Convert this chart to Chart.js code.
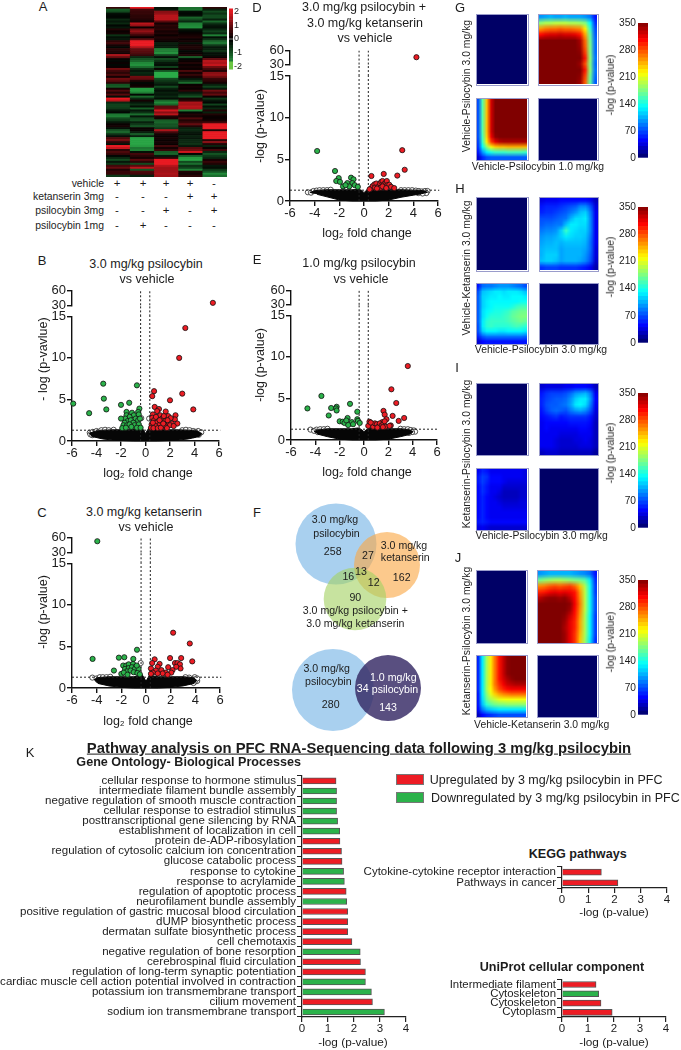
<!DOCTYPE html>
<html><head><meta charset="utf-8">
<style>
html,body{margin:0;padding:0;background:#fff;}
#page{position:relative;width:681px;height:1050px;overflow:hidden;font-family:"Liberation Sans",Arial,sans-serif;color:#1c1c1c;}
#page canvas{position:absolute;}
.t{position:absolute;white-space:nowrap;line-height:1;}
</style>
<script src="https://cdn.jsdelivr.net/npm/chart.js@4"></script>
</head><body><div id="page"></div>
<script>
/* ---------- panel A ---------- */
const heatRows=[[.5,2,-.2,-1.3,.4],[-1.1,.6,-.3,-1.4,-.4],[-.9,.5,1.2,-.2,-.9],[-.2,.5,1.3,-.1,-.6],[-.1,.4,1.6,-.2,-.9],[-.1,.4,1.6,-1.2,-.9],[-.5,.3,1.6,-.9,-.4],[-.3,.2,.8,-.5,-1.2],[-.5,1.6,.2,-1.5,-.6],[-.1,1.3,.4,-1.6,-.3],[-.3,.1,.3,-1.7,-.2],[.3,1,.4,-.3,-.5],[.1,1.3,.2,-.1,-.8],[.2,.9,.3,.1,-.5],[-.6,.5,.1,.2,-1.5],[-.2,.1,.3,.3,-.2],[-.3,.8,.2,.1,-.6],[.4,2,.1,.2,-1.2],[.6,2,-.4,-.2,-1.4],[.2,2,-.3,.2,-.7],[-.1,1.5,-.4,.3,-.3],[.4,.9,-1.5,.2,-.4],[.3,.8,-1.5,-.1,-.6],[.2,.7,-1.7,.1,-.2],[1.5,.5,-.8,.3,-.2],[.9,-.5,-.2,-1.1,.1],[.1,-1,-.9,-.1,.9],[-.1,-1.2,-.6,.1,1.6],[.1,-1.6,-.3,.3,1.5],[-.1,-1.7,-.2,.1,1.7],[.1,-1.3,-.8,.2,1],[1,-.6,.1,.1,.6],[.6,-.3,-1,.7,.3],[.4,-.5,-2,.2,1.2],[.7,-.4,-2,.5,1.3],[.2,1,-2,.2,1],[1,.9,-.9,-.3,.5],[.8,.3,-.7,-.7,.4],[.4,-.1,-.5,-1.3,.2],[-1,.1,-.3,.1,-.4],[-1.1,.2,-.9,.2,-.8],[.2,-1.8,-.4,.1,-.3],[.7,-1.8,-.2,.4,1],
[.3,-1.5,-.4,-.3,.6],[.8,-.1,-.3,-.6,.9],[-.2,-1.2,-.5,-1,.1],[2,-.5,-.2,.2,-.7],[1.6,.2,-1.2,.4,-.3],[-.5,-.3,-1.6,1.5,-.1],[-.8,-.6,-1.2,1.4,-.8],[-.8,-.2,.8,1.6,-.2],[-.7,-1.1,.9,1.5,-.5],[-.3,-.3,1.8,-1.5,.3],[-.1,-.6,1.2,-.1,-.4],[-1.4,-1.3,1.6,.3,.3],[-1.5,-.3,.3,.2,.1],[-.9,-.9,.2,.7,.1],[-.7,-1,-1.1,.3,.2],[-.3,-.4,-1.2,.5,.6],[.1,-.7,-1,.9,2],[.2,-1,-1,.3,2],[-.2,.1,-.7,-.4,2],[-1,.1,1.5,-.5,.3],[-1.2,-.4,.6,-.3,2.2],[-.6,-1.1,.2,-.2,2.2],[-.2,-.4,.1,-.4,2.2],[.7,-1.9,.2,-.3,2.1],[1,-1.9,.1,-.5,.4],[.4,-1.9,.2,-.5,1.2],[-.2,-1.9,.1,-.6,.3],[2,-1.8,.6,-.3,-.4],[1.7,-1.4,.2,.8,.1],[.4,-1.5,.5,1,.6],[.7,-.2,-1.1,1.8,-.5],[.5,.6,-1.2,-.1,-1],[-.1,.4,-.3,-1.1,-.7],[-.5,.2,.4,-1.8,-.5],[-.9,.8,2,-1.9,.2],[-.3,.4,2.1,-.9,.5],[-.7,-.9,2.1,-1.3,.3],[.6,.8,1.6,-.6,-.3],[.9,1.6,1.4,-.8,-.2],[.3,-1,1.4,-1.5,-.7],[.5,.7,1.4,.3,-1],[.5,.6,1.5,.2,-1.6],[-.7,-.4,1.4,.4,-1.3]];
const heatColumns=['1','2','3','4','5'];
const heatScaleLevels=[.1,.3,.5,.7,.9,1.1,1.3,1.5,1.7,1.9,2.1,-.1,-.3,-.5,-.7,-.9,-1.1,-1.3,-1.5,-1.7,-1.9,-2.1];
const heatScaleTicks=[-2,-1,0,1,2];
const treatmentLabels=['vehicle','ketanserin 3mg','psilocybin 3mg','psilocybin 1mg'];
const treatmentMarks=[['+','+','+','+','-'],['-','-','-','+','+'],['-','-','+','-','+'],['-','+','-','-','-']];

/* ---------- volcano panels: [log2 fold change, -log p] ---------- */
const bRed=[[3.25,13.6],[2.75,10],[.7,6],[.55,5.4],[3,5.7],[2,4.9],[3.9,3.8],[.75,4.1],[1.1,3.85],[.95,3.6],[.6,3.2],[1.65,3.55],[2.45,3.1],[2.4,2.6],[1.85,3],[2.05,2.75],[2.15,2.1],[2.6,2.1],[1.7,2.1],[2,1.9],[.55,2.8],[.7,2.5],[.9,2.2],[1.05,2.9],[1.2,3.1],[1.35,2.7],[1.5,3],[1.6,2.4],[1.3,2.2],[1.1,1.9],[.8,1.8],[.5,2],[.45,1.6],[.65,1.55],[1,1.55],[1.4,1.7],[1.55,1.9],[1.8,2.5],[1.25,1.6],[1.75,1.55],[.85,2.9],[.6,2.2],[1.15,2.5],[1.45,2.1],[2.3,1.8]];
const bRedTop=[[5.5,35]];
const bGreen=[[-3.45,6.9],[-.7,6.7],[-3.4,5.1],[-5.9,4.5],[-1.33,4.6],[-2,4.35],[-3.2,3.8],[-4.6,3.35],[-.5,3.9],[-1.55,3.5],[-1.55,3.1],[-1.1,3.4],[-.95,3.1],[-.6,3.5],[-.55,3.2],[-1.3,2.9],[-1.65,2.7],[-2,2.7],[-1.45,2.4],[-1.2,2.5],[-.8,2.7],[-.6,2.5],[-1,2.2],[-1.7,2.2],[-1.8,1.9],[-1.5,1.9],[-1.3,2],[-.9,1.9],[-.55,2],[-.45,2.7],[-1.15,1.7],[-1.9,1.55],[-1.6,1.6],[-.7,1.6],[-.4,1.6]];
const bGreenTop=[];
const bOpen=[[-4.55,1],[-4.5,.8],[-4.3,1.1],[-4.35,.7],[-4,1.2],[-3.8,1.1],[-3.6,1.3],[-3.3,1.35],[-3,1.3],[-2.6,1.35],[-.35,2.75],[.3,2.7],[3,1.3],[3.3,1.35],[3.6,1.3],[3.9,1.2],[4.1,1.1],[4.3,1.2],[4.1,.9],[4.35,.75],[4.55,1.05],[3.95,.7],[-2.9,.85]];
const bMass=[[-4.6,.9],[-4.2,1.15],[-3.5,1.3],[-2.5,1.35],[-1.5,1.35],[-.8,1.4],[-.4,1.9],[-.2,1.4],[0,.9],[.2,1.4],[.4,1.9],[.8,1.4],[1.5,1.35],[2.5,1.35],[3.5,1.3],[4.2,1.2],[4.6,.9],[4.4,.55],[3.5,.25],[2.5,.08],[1,0],[-1,0],[-2.5,.08],[-3.5,.25],[-4.4,.55]];

const cRed=[[2.2,6.65],[3.55,5.35],[3.75,3.2],[1.95,3.6],[2.85,3.6],[.7,3.45],[2.35,3],[2.55,3],[2.75,2.85],[2.8,2.35],[.5,3],[.4,2.35],[1.1,2.9],[.95,2.55],[1.8,2.5],[2.45,2.55],[2.15,2.15],[1.25,2.15],[.8,2.1],[.55,1.85],[1.6,1.85],[2.05,1.85],[1.35,1.75],[.95,1.75],[1.75,1.6],[.4,1.7]];
const cRedTop=[];
const cGreen=[[-.73,4.6],[-4.33,3.5],[-2.2,3.65],[-1.76,3.7],[-1.03,3.5],[-2.6,2.1],[-1.85,2.7],[-1.6,2.7],[-1.4,2.85],[-1.05,2.9],[-.85,2.55],[-1.7,2.3],[-1.4,2.4],[-1.15,2.5],[-.9,2.3],[-.6,2.3],[-1.55,2],[-1.25,2.1],[-1,1.9],[-.7,1.8],[-2,1.7],[-1.8,1.85],[-1.5,1.6],[-.5,1.65],[-.75,2.7]];
const cGreenTop=[[-3.95,53]];
const cOpen=[[-.43,3],[-4.35,1.25],[-4,1.15],[-3.9,.95],[-3.75,1.3],[-3.5,1.3],[-3.2,1.3],[-2.9,1.35],[3.95,1.3],[4,1.05],[4.15,.85],[3.95,.75],[3.75,.95],[3.5,1.25],[3.2,1.3],[4.15,1.15],[3.85,.6]];
const cMass=[[-4.2,1],[-3.9,1.25],[-3,1.35],[-2,1.35],[-1,1.35],[-.6,1.45],[-.35,1.7],[-.15,1.2],[0,.8],[.15,1.2],[.35,1.7],[.6,1.45],[1,1.35],[2,1.35],[3,1.35],[3.8,1.25],[4.1,.95],[3.9,.55],[3,.25],[2,.08],[1,0],[-1,0],[-2,.08],[-3,.25],[-3.9,.55]];

const dRed=[[3.1,6.1],[3.3,3.75],[2.7,3.05],[1.6,3.25],[.6,3],[.55,1.5],[.7,1.8],[.85,2],[1,2.1],[.9,1.6],[1.15,1.7],[1.3,2.1],[1.4,2.3],[1.5,2.4],[1.6,2],[1.75,2.2],[1.85,2.4],[1.65,1.7],[1.9,1.9],[2.05,1.95],[2.2,1.7],[2.45,1.55],[1.35,1.6],[1.05,1.5],[1.5,1.75],[1.8,1.55],[.45,1.4]];
const dRedTop=[[4.25,46]];
const dGreen=[[-3.8,6],[-2.35,3.6],[-2.05,2.75],[-2.25,2.4],[-1.05,2.8],[-.85,2.6],[-.95,2.15],[-1.35,2.15],[-.75,1.9],[-1.7,1.75],[-1.2,1.75],[-.5,1.7],[-1.95,2.3],[-1.5,1.9]];
const dGreenTop=[];
const dOpen=[[-4.55,1.05],[-4.3,1],[-4.1,1.2],[-3.85,1.25],[-3.6,1.3],[-3.3,1.3],[-3,1.3],[-2.7,1.35],[3,1.3],[3.3,1.3],[3.6,1.3],[3.9,1.3],[4.2,1.25],[4.45,1.2],[4.7,1.15],[4.95,1.2],[5.15,1.2],[5.05,.95],[4.75,.9],[4.4,.95]];
const dMass=[[-4.4,1],[-4,1.25],[-3,1.35],[-2,1.35],[-1,1.35],[-.5,1.4],[-.2,1.3],[0,1],[.2,1.3],[.5,1.4],[1,1.35],[2,1.35],[3,1.35],[4,1.3],[4.8,1.25],[5.15,1.05],[4.6,.85],[4,.7],[3,.45],[2,.12],[1,0],[-1,0],[-2,.12],[-3,.5],[-3.8,.8]];

const eRed=[[3.6,8.9],[2.25,6.1],[2.65,4.45],[1.6,3.5],[1.7,3.05],[2.35,2.9],[3.3,2.65],[2.85,2.3],[1.85,2.5],[1.5,2.15],[2.2,1.75],[.45,2.2],[.6,1.95],[.75,1.6],[.9,2],[1.05,1.9],[1.2,1.6],[1.3,2],[1.45,1.75],[1.6,1.95],[1.7,2.25],[1.75,1.6],[2.1,1.7],[.35,1.7],[.55,2.1],[1.1,1.5],[1.55,1.55]];
const eRedTop=[];
const eGreen=[[-3.5,5.3],[-4.65,3.8],[-2.7,3.85],[-2.25,4],[-2.3,3.8],[-2.25,3.55],[-2.9,2.95],[-1.15,4.35],[-.55,3.4],[-1.35,2.65],[-.55,2.5],[-.5,2.3],[-1,2.15],[-2,2.25],[-1.75,2.2],[-1.6,2.05],[-1.45,2.35],[-1.3,1.8],[-.9,1.9],[-.35,2.05]];
const eGreenTop=[];
const eOpen=[[-4.4,1.25],[-4.1,1.1],[-3.9,1.25],[-3.6,1.3],[-3.3,1.3],[-3,1.35],[3,1.35],[3.3,1.3],[3.6,1.3],[3.85,1.2],[4.1,1.15],[4.2,1],[3.95,.95],[3.7,.85],[-3.8,.95]];
const eMass=[[-4.1,1],[-3.8,1.2],[-3,1.35],[-2,1.35],[-1,1.35],[-.5,1.45],[-.2,1.25],[0,1],[.2,1.25],[.5,1.45],[1,1.35],[2,1.35],[3,1.35],[3.7,1.25],[4.05,1],[3.7,.65],[3,.4],[2,.1],[1,0],[-1,0],[-2,.1],[-3,.4],[-3.8,.7]];

const volcanoTicksX=[-6,-4,-2,0,2,4,6];
const volcanoTicksLow=[0,5,10,15];
const volcanoTicksTop=[30,60];
const pThreshold=1.3, foldLow=-.4, foldHigh=.35;

/* ---------- Venn (panel F) ---------- */
const vennTopCounts=[258,162,90,27,16,12,13];
const vennBottomCounts=[280,143,34];

/* ---------- smooth heat panels, -log(p) values ---------- */
const colorbarLevels=[0,10,20,30,40,50,60,70,80,90,100,110,120,130,140,150,160,170,180,190,200,210,220,230,240,250,260,270,280,290,300,310,320,330,340];
const colorbarMax=350, colorbarStep=70;
const emptyGrid=[[0,0],[0,0]];
const gTopRight=[[95,100,105,100,100,105,100,100,100,95,85,50],[180,190,190,195,195,195,190,190,185,175,130,60],[255,265,270,270,275,270,270,265,260,225,150,70],[305,315,320,320,325,320,320,315,300,250,165,75],[350,350,350,350,350,350,350,350,335,270,170,80],[350,350,350,350,350,350,350,350,340,275,175,80],[350,350,350,350,350,350,350,350,345,285,175,80],[350,350,350,350,350,350,350,350,350,300,180,85],[350,350,350,350,350,350,350,350,340,280,175,80],[350,350,350,350,350,350,350,350,350,300,180,85],[350,350,350,350,350,350,350,350,345,285,170,80],[350,350,350,350,350,350,350,350,340,275,165,75]];
const gBottomLeft=[[70,160,240,320,350,350,350,350,350,350,350,350],[70,160,240,320,350,350,350,350,350,350,350,350],[70,160,240,320,350,350,350,350,350,350,350,350],[70,160,240,320,350,350,350,350,350,350,350,350],[70,160,240,320,350,350,350,350,350,350,350,350],[70,160,240,320,350,350,350,350,350,350,350,350],[70,160,240,320,350,350,350,350,350,350,350,350],[70,155,235,310,345,350,350,350,350,350,350,350],[65,150,225,285,315,330,335,335,335,335,335,335],[60,130,180,215,235,240,240,245,245,245,245,245],[50,95,125,140,150,150,150,155,155,155,155,150],[30,55,70,75,75,75,75,75,75,75,75,75]];
const hTopRight=[[35,40,40,40,45,45,45,45,45,45,40,25],[50,55,55,55,60,65,70,75,90,90,70,35],[55,60,60,65,70,75,85,95,110,115,85,40],[70,70,70,75,80,85,105,120,120,125,90,40],[75,80,80,85,85,110,125,125,120,120,90,40],[85,90,90,95,115,150,125,120,115,115,90,40],[95,100,100,105,115,125,120,115,115,110,85,40],[100,105,105,110,105,110,110,110,110,105,80,40],[105,110,110,110,100,105,105,105,105,100,80,35],[105,115,115,115,100,105,105,105,105,95,75,35],[110,115,115,110,100,105,105,105,100,90,70,30],[60,65,65,65,60,60,60,60,55,50,40,20]];
const hBottomLeft=[[50,80,85,85,90,95,95,95,90,85,80,70],[70,110,115,120,125,125,120,125,125,125,120,110],[75,115,120,125,125,130,125,125,130,130,130,125],[75,115,125,130,130,130,130,130,130,130,135,135],[75,115,125,130,135,135,135,135,140,150,155,155],[75,120,130,135,140,140,145,150,160,165,170,170],[75,120,135,145,145,145,150,155,165,170,175,175],[75,125,145,150,150,150,150,155,160,165,170,165],[70,125,145,150,145,145,145,145,150,155,150,145],[70,115,130,130,130,125,125,130,130,130,130,125],[55,75,85,85,85,85,85,85,85,85,85,80],[30,45,50,50,50,50,50,50,50,50,50,50]];
const iTopRight=[[30,35,35,35,35,40,40,45,45,45,40,25],[50,60,65,65,65,70,80,95,100,105,85,40],[55,65,70,75,75,80,95,115,125,125,95,45],[55,70,75,75,80,85,100,125,130,120,85,40],[50,65,75,80,75,70,85,95,100,90,70,35],[45,50,55,60,50,55,60,60,60,60,50,30],[40,45,45,45,45,45,50,50,50,50,45,25],[40,45,40,40,40,40,40,40,45,45,40,25],[40,40,40,40,35,35,35,35,40,40,40,25],[40,40,40,35,30,30,30,35,35,40,35,25],[40,40,40,35,30,30,30,30,35,35,35,25],[25,30,30,30,25,25,25,25,25,25,25,15]];
const iBottomLeft=[[40,55,50,40,40,40,40,40,40,40,40,35],[50,65,60,45,45,45,40,40,40,40,40,35],[50,65,55,45,45,45,40,35,35,35,35,35],[45,60,50,40,40,40,30,30,30,30,30,30],[45,60,50,40,40,35,25,25,25,25,30,30],[45,55,45,40,35,30,25,25,25,25,30,30],[45,55,45,40,40,35,30,30,30,30,35,35],[45,55,45,40,40,40,35,35,35,35,35,35],[45,55,45,40,40,40,40,40,40,40,40,40],[45,55,45,40,40,40,40,40,40,40,40,40],[50,55,50,45,45,45,45,45,45,45,45,45],[35,40,35,30,30,30,30,30,30,30,30,30]];
const jTopRight=[[95,100,105,105,105,105,105,100,95,90,80,50],[170,180,185,190,190,185,180,175,170,160,125,60],[260,265,275,280,275,280,285,270,240,190,135,65],[295,300,310,315,310,315,310,300,255,195,135,65],[330,340,345,345,340,345,330,305,260,195,135,70],[350,350,350,350,350,350,345,310,265,195,135,70],[350,350,350,350,350,350,340,305,260,195,135,70],[350,350,350,350,350,345,325,300,255,190,130,65],[350,350,350,350,350,340,315,295,250,190,130,65],[350,350,350,350,350,335,315,295,250,190,130,65],[350,350,350,350,350,340,315,290,245,190,130,65],[350,350,350,350,350,340,315,290,240,185,125,60]];
const jBottomLeft=[[55,125,185,225,265,300,325,345,350,350,350,350],[55,125,185,225,265,300,325,345,350,350,350,350],[55,125,185,225,265,300,325,345,350,350,350,350],[55,125,185,225,265,300,325,345,350,350,350,350],[55,125,185,225,265,300,320,335,345,350,350,350],[55,125,185,225,265,290,310,325,330,335,335,335],[55,125,185,220,255,280,295,305,310,310,310,310],[50,125,175,210,235,250,260,265,270,270,270,270],[50,120,165,190,200,210,215,215,215,215,215,215],[50,110,145,160,170,175,175,180,180,180,180,180],[45,85,105,115,120,125,125,125,125,125,125,125],[25,45,55,60,65,70,70,70,70,70,70,70]];

/* ---------- pathway bars (panel K) ---------- */
const goTerms=['cellular response to hormone stimulus','intermediate filament bundle assembly','negative regulation of smooth muscle contraction','cellular response to estradiol stimulus','posttranscriptional gene silencing by RNA','establishment of localization in cell','protein de-ADP-ribosylation','regulation of cytosolic calcium ion concentration','glucose catabolic process','response to cytokine','response to acrylamide','regulation of apoptotic process','neurofilament bundle assembly','positive regulation of gastric mucosal blood circulation','dUMP biosynthetic process','dermatan sulfate biosynthetic process','cell chemotaxis','negative regulation of bone resorption','cerebrospinal fluid circulation','regulation of long-term synaptic potentiation','cardiac muscle cell action potential involved in contraction','potassium ion transmembrane transport','cilium movement','sodium ion transmembrane transport'];
const goValues=[1.31,1.33,1.33,1.33,1.37,1.45,1.46,1.52,1.54,1.6,1.63,1.7,1.72,1.76,1.76,1.76,1.92,2.24,2.25,2.44,2.44,2.67,2.71,3.17];
const goDirection=['u','d','d','d','d','d','u','u','u','d','d','u','d','u','u','u','u','d','u','u','d','d','u','d'];
const keggTerms=['Cytokine-cytokine receptor interaction','Pathways in cancer'];
const keggValues=[1.5,2.13];
const keggDirection=['u','u'];
const uniprotTerms=['Intermediate filament','Cytoskeleton','Cytoskeleton','Cytoplasm'];
const uniprotValues=[1.31,1.41,1.5,1.93];
const uniprotDirection=['u','d','u','u'];

/* ---------- helpers ---------- */
const RED='#ed1c24',GREEN='#2bb24a';
const page=document.getElementById('page');
Chart.defaults.font.family='"Liberation Sans",Arial,sans-serif';
Chart.defaults.color='#1c1c1c';
Chart.defaults.animation=false;
Chart.defaults.plugins.legend.display=false;
Chart.defaults.plugins.tooltip.enabled=false;
Chart.defaults.layout.autoPadding=false;

function T(text,x,y,o={}){
  const d=document.createElement('div');d.className='t';d.textContent=text;
  d.style.left=x+'px';d.style.top=y+'px';d.style.fontSize=(o.size||12)+'px';
  if(o.color)d.style.color=o.color;
  if(o.bold)d.style.fontWeight='bold';
  if(o.under)d.style.textDecoration='underline';
  const ax=o.align==='left'?'0':o.align==='right'?'-100%':'-50%';
  d.style.transform=`translate(${ax},-50%)`+(o.rot?` rotate(${o.rot}deg)`:'');
  page.appendChild(d);return d;
}
function C(l,t,w,h,cfg){
  const c=document.createElement('canvas');
  c.style.left=l+'px';c.style.top=t+'px';c.style.width=w+'px';c.style.height=h+'px';
  c.width=w;c.height=h;page.appendChild(c);
  cfg.options=cfg.options||{};cfg.options.responsive=false;
  return new Chart(c,cfg);
}
const pts=a=>a.map(p=>({x:p[0],y:p[1]}));
function clamp(v){return Math.max(0,Math.min(1,v));}
function jet(v){const t=v/350;
  const r=clamp(1.5-Math.abs(4*t-3)),g=clamp(1.5-Math.abs(4*t-2));
  const b=t<.125?.4+.6*t/.125:clamp(1.5-Math.abs(4*t-1));
  return `rgb(${Math.round(r*255)},${Math.round(g*255)},${Math.round(b*255)})`;}
function rg(z){const t=Math.pow(Math.min(Math.abs(z)/2,1),1.05);
  return z>=0?`rgb(${Math.round(232*t)},${Math.round(26*t)},${Math.round(34*t)})`:`rgb(${Math.round(42*t)},${Math.round(172*t)},${Math.round(72*t)})`;}

/* stacked-bar cell grid; rows[0] is the top row */
function gridConfig(rows,colLabels,colorFn,inflate){
  const n=rows.length;
  return {type:'bar',
    data:{labels:colLabels,datasets:rows.slice().reverse().map(r=>({data:r.map(()=>1),backgroundColor:r.map(colorFn),borderWidth:0,inflateAmount:inflate,barPercentage:1,categoryPercentage:1}))},
    options:{devicePixelRatio:1,layout:{padding:0},
      scales:{x:{display:false,stacked:true,grid:{display:false}},y:{display:false,stacked:true,min:0,max:n,grid:{display:false}}}}};
}
/* smooth panel: one backing pixel per cell, the browser smooths it when scaled */
function smooth(l,t,r,b,rows){
  const m=rows.length,n=rows[0].length,w=r-l,h=b-t;
  const c=document.createElement('canvas');c.width=n;c.height=m;
  c.style.cssText=`left:${l}px;top:${t}px;width:${n}px;height:${m}px;transform-origin:0 0;transform:scale(${w/n},${h/m});`;
  page.appendChild(c);
  const cfg=gridConfig(rows,rows[0].map((_,i)=>String(i)),jet,0);cfg.options.responsive=false;
  new Chart(c,cfg);
  const e=document.createElement('div');
  e.style.cssText=`position:absolute;left:${l-.5}px;top:${t-.5}px;width:${w}px;height:${h}px;border:.7px solid #9a9ccb;`;
  page.appendChild(e);
}
function colorbar(l,t,r,b){
  const pad=36,top=8;
  C(l-pad,Math.round(t)-top,r-l+pad,Math.round(b-t)+top+8,{type:'bar',
    data:{labels:['c'],datasets:colorbarLevels.map(v=>({data:[10],backgroundColor:jet(v+5),borderWidth:0,barPercentage:1,categoryPercentage:1}))},
    options:{layout:{padding:{top:top,bottom:8}},scales:{
      x:{display:false,stacked:true},
      y:{stacked:true,min:0,max:colorbarMax,ticks:{stepSize:colorbarStep,font:{size:10.2},padding:2,color:'#1c1c1c'},border:{display:false},
         grid:{drawOnChartArea:false,drawTicks:false},afterFit:s=>{s.width=pad;}}}}});
}
function heatBlock(g){
  smooth(g.xa,g.ya,g.xb,g.yb,emptyGrid);
  smooth(g.xc,g.ya,g.xd,g.yb,g.tr);
  smooth(g.xa,g.yc,g.xb,g.yd,g.bl);
  smooth(g.xc,g.yc,g.xd,g.yd,emptyGrid);
  colorbar(638.3,g.cbt,648.3,g.cbb);
  T('-log (p-value)',611,g.ty,{size:10.3,rot:-90});
  T(g.left,467,g.ly,{size:10.4,rot:-90});
  T(g.bottom,g.bx,g.by,{size:10.4});
}
function volcano(v){
  const padL=40,padT=6,padR=10,bottom=32;
  const L=Math.round(v.x0),R=Math.round(v.x1),Y60=Math.round(v.y60),Y0=Math.round(v.y0);
  const tick={font:{size:13},padding:1,color:'#1c1c1c',autoSkip:false};
  const fixed=list=>(s=>{s.ticks=list.map(value=>({value}));});
  const yCommon={stack:'v',position:'left',afterFit:s=>{s.width=padL;},
     grid:{drawOnChartArea:false,drawTicks:true,tickLength:5,color:'#111',lineWidth:1.4},
     border:{display:true,color:'#111',width:1.4}};
  const dash=(x,yID,a,b)=>({showLine:true,yAxisID:yID,data:[{x:x,y:a},{x:x,y:b}],borderColor:'#222',borderWidth:1,borderDash:[2,2],pointRadius:0,clip:false,order:3});
  const dots=(a,c,yID)=>({yAxisID:yID,data:pts(a),backgroundColor:c,borderColor:'#111',borderWidth:.8,pointRadius:2.6,clip:false,order:1});
  C(L-padL,Y60-padT,R-L+padL+padR,Y0-Y60+padT+bottom,{type:'scatter',
    data:{datasets:[
      dots(v.red,RED,'y'),dots(v.green,GREEN,'y'),dots(v.redTop,RED,'yTop'),dots(v.greenTop,GREEN,'yTop'),
      dash(foldLow,'y',0,15),dash(foldHigh,'y',0,15),dash(foldLow,'yGap',15,30),dash(foldHigh,'yGap',15,30),dash(foldLow,'yTop',30,60),dash(foldHigh,'yTop',30,60),
      {showLine:true,yAxisID:'y',data:[{x:-6,y:pThreshold},{x:6.1,y:pThreshold}],borderColor:'#222',borderWidth:1,borderDash:[2,2],pointRadius:0,clip:false,order:4},
      {showLine:true,yAxisID:'y',data:pts(v.mass),fill:'shape',backgroundColor:'#060606',borderColor:'#060606',borderWidth:1,pointRadius:0,tension:0,clip:false,order:5},
      {yAxisID:'y',data:pts(v.open),backgroundColor:'#fff',borderColor:'#222',borderWidth:.8,pointRadius:2.6,clip:false,order:6}
    ]},
    options:{layout:{padding:{top:padT,right:padR,left:0,bottom:0}},
      scales:{
        x:{type:'linear',min:-6,max:6,afterBuildTicks:fixed(volcanoTicksX),ticks:{...tick,padding:0,maxRotation:0},
           grid:{drawOnChartArea:false,drawTicks:true,tickLength:5,color:'#111',lineWidth:1.4},border:{display:true,color:'#111',width:1.4},
           afterFit:s=>{s.height=bottom;}},
        y:{...yCommon,min:0,max:15,stackWeight:v.y0-v.y15,afterBuildTicks:fixed(volcanoTicksLow),ticks:tick},
        yGap:{...yCommon,min:15,max:30,stackWeight:v.y15-v.y30,ticks:{display:false},grid:{display:false},border:{display:false}},
        yTop:{...yCommon,min:30,max:60,stackWeight:v.y30-v.y60,afterBuildTicks:fixed(volcanoTicksTop),ticks:tick}
      }}});
}
function hbar(l,areaL,areaR,areaT,areaB,terms,vals,dirs,fs){
  const top=3,bottom=24;
  C(l,areaT-top,areaR-l+10,areaB-areaT+top+bottom,{type:'bar',
    data:{labels:terms,datasets:[{data:vals,backgroundColor:dirs.map(d=>d==='u'?RED:GREEN),borderColor:'#555',borderWidth:1,barThickness:6}]},
    options:{indexAxis:'y',layout:{padding:{top:top,right:10,left:0,bottom:0}},
      scales:{
        x:{type:'linear',min:0,max:4,ticks:{stepSize:1,font:{size:11.5},padding:0,color:'#1c1c1c'},
           grid:{drawOnChartArea:false,drawTicks:true,tickLength:5,color:'#222',lineWidth:1.2},border:{display:true,color:'#222',width:1.2},afterFit:s=>{s.height=bottom;}},
        y:{ticks:{font:{size:fs},padding:1,autoSkip:false,color:'#1c1c1c'},
           grid:{drawOnChartArea:false,drawTicks:true,tickLength:5,color:'#222',lineWidth:1},border:{display:true,color:'#222',width:1.2},afterFit:s=>{s.width=areaL-l;}}
      }}});
}

/* ---------- panel A ---------- */
C(106,7,121,170,gridConfig(heatRows,heatColumns,rg,'auto'));
C(229,2,26,74,{type:'bar',
  data:{labels:['c'],datasets:heatScaleLevels.map(v=>({data:[v>0?.2:-.2],backgroundColor:v<-1.6?'#6cc644':rg(v),borderWidth:0,barPercentage:1,categoryPercentage:1}))},
  options:{layout:{padding:{top:5,bottom:5}},scales:{
    x:{stacked:true,display:false},
    y:{stacked:true,position:'right',min:-2.2,max:2.2,ticks:{font:{size:9},padding:1},afterBuildTicks:s=>{s.ticks=heatScaleTicks.map(value=>({value}));},
       grid:{drawOnChartArea:false,drawTicks:false},border:{display:false},afterFit:s=>{s.width=22;}}}}});
const rowY=[184,196.7,211,226],colX=[117,143,166,190,214];
treatmentLabels.forEach((lab,i)=>{T(lab,104,rowY[i],{size:10.4,align:'right'});treatmentMarks[i].forEach((m,j)=>T(m,colX[j],rowY[i],{size:11.5}));});
T('A',43,6,{size:13});

/* ---------- volcanoes ---------- */
volcano({x0:72,x1:219.3,y0:441,y15:314.3,y30:303,y60:288.3,red:bRed,green:bGreen,redTop:bRedTop,greenTop:bGreenTop,open:bOpen,mass:bMass});
volcano({x0:72.3,x1:220,y0:688.3,y15:561,y30:550,y60:535,red:cRed,green:cGreen,redTop:cRedTop,greenTop:cGreenTop,open:cOpen,mass:cMass});
volcano({x0:290,x1:438.3,y0:201.3,y15:74,y30:62.3,y60:48.3,red:dRed,green:dGreen,redTop:dRedTop,greenTop:dGreenTop,open:dOpen,mass:dMass});
volcano({x0:290.7,x1:437.3,y0:440,y15:313,y30:302.3,y60:288,red:eRed,green:eGreen,redTop:eRedTop,greenTop:eGreenTop,open:eOpen,mass:eMass});
T('B',42,260,{size:13});T('C',42,512,{size:13});T('D',257,7,{size:13});T('E',257,259,{size:13});T('F',257,512,{size:13});
T('3.0 mg/kg psilocybin',146,264,{size:12.5});T('vs vehicle',147,279,{size:12.5});
T('3.0 mg/kg ketanserin',144,512,{size:12.5});T('vs vehicle',146,527,{size:12.5});
T('3.0 mg/kg psilocybin +',364,7,{size:12.5});T('3.0 mg/kg ketanserin',365,23,{size:12.5});T('vs vehicle',365,38,{size:12.5});
T('1.0 mg/kg psilocybin',359,263,{size:12.5});T('vs vehicle',361,279,{size:12.5});
T('- log (p-vavlue)',43,359,{size:12.5,rot:-90});T('-log (p-value)',43,612,{size:12.5,rot:-90});T('-log (p-value)',260,126,{size:12.5,rot:-90});T('-log (p-value)',260,365,{size:12.5,rot:-90});
T('log₂ fold change',148,473,{size:12.5});T('log₂ fold change',148,721,{size:12.5});T('log₂ fold change',367,233,{size:12.5});T('log₂ fold change',367,472,{size:12.5});

/* ---------- Venn ---------- */
const vennMarks={data:[{x:46,y:44,r:40.5},{x:97,y:65,r:33},{x:65,y:99,r:31.3},{x:43,y:190,r:41},{x:98,y:188,r:33}],
  backgroundColor:['rgba(128,186,232,.68)','rgba(250,168,70,.62)','rgba(165,210,100,.62)','rgba(128,186,232,.68)','rgba(52,40,100,.82)'],borderWidth:0,clip:false};
C(290,500,150,240,{type:'bubble',data:{datasets:[vennMarks]},options:{layout:{padding:0},scales:{x:{display:false,min:0,max:150},y:{display:false,min:0,max:240,reverse:true}}}});
const vf=10.6;
T('3.0 mg/kg',335,519,{size:vf});T('psilocybin',336.5,532.7,{size:vf});T(vennTopCounts[0],332.7,550.7,{size:vf});
T('3.0 mg/kg',404,544.7,{size:vf});T('ketanserin',405.3,557.3,{size:vf});T(vennTopCounts[1],401.7,577.3,{size:vf});
T(vennTopCounts[3],368,554.7,{size:vf});T(vennTopCounts[6],361,571.3,{size:vf});T(vennTopCounts[4],348.3,575.7,{size:vf});T(vennTopCounts[5],373.7,582,{size:vf});T(vennTopCounts[2],355.3,596.7,{size:vf});
T('3.0 mg/kg psilocybin +',355.3,610.3,{size:vf});T('3.0 mg/kg ketanserin',355.3,623.3,{size:vf});
T('3.0 mg/kg',326.7,667.7,{size:vf});T('psilocybin',328.3,680.7,{size:vf});T(vennBottomCounts[0],330.7,703.7,{size:vf});
T(vennBottomCounts[2],362.7,688,{size:vf,color:'#fff'});T('1.0 mg/kg',393.3,676.7,{size:vf,color:'#fff'});T('psilocybin',395,689.3,{size:vf,color:'#fff'});T(vennBottomCounts[1],388,707.3,{size:vf,color:'#fff'});

/* ---------- heat blocks ---------- */
heatBlock({xa:476.3,xb:527.3,xc:538.3,xd:597.7,ya:14.3,yb:84.7,yc:98.3,yd:160,tr:gTopRight,bl:gBottomLeft,cbt:23.3,cbb:158.3,ty:85,ly:86,left:'Vehicle-Psilocybin 3.0 mg/kg',bottom:'Vehicle-Psilocybin 1.0 mg/kg',bx:538,by:167});
heatBlock({xa:476.3,xb:527.7,xc:539,xd:597.7,ya:197.3,yb:270.3,yc:283.7,yd:343.3,tr:hTopRight,bl:hBottomLeft,cbt:206.7,cbb:342.3,ty:267,ly:268,left:'Vehicle-Ketanserin 3.0 mg/kg',bottom:'Vehicle-Psilocybin 3.0 mg/kg',bx:541,by:350});
heatBlock({xa:476.3,xb:527.7,xc:539,xd:597.7,ya:383.7,yb:454.7,yc:468.7,yd:529.3,tr:iTopRight,bl:iBottomLeft,cbt:392.7,cbb:527.7,ty:452.7,ly:454,left:'Ketanserin-Psilocybin 3.0 mg/kg',bottom:'Vehicle-Psilocybin 3.0 mg/kg',bx:541.7,by:536.3});
heatBlock({xa:476.3,xb:526.3,xc:537.3,xd:597.7,ya:570.7,yb:642.3,yc:655.7,yd:716.7,tr:jTopRight,bl:jBottomLeft,cbt:580,cbb:715.3,ty:641.7,ly:641,left:'Ketanserin-Psilocybin 3.0 mg/kg',bottom:'Vehicle-Ketanserin 3.0 mg/kg',bx:541.7,by:725});
T('G',460,7,{size:13});T('H',460,188,{size:13});T('I',457,367,{size:13});T('J',458,557,{size:13});

/* ---------- panel K ---------- */
T('K',30,752,{size:13});
T('Pathway analysis on PFC RNA-Sequencing data following 3 mg/kg psilocybin',359,748,{size:14.8,bold:true,under:true});
T('Gene Ontology- Biological Processes',188.7,762,{size:12.6,bold:true});
hbar(0,302,406,771,1017,goTerms,goValues,goDirection,11.55);
T('-log (p-value)',353,1043,{size:11.8});
T('KEGG pathways',577.7,854.3,{size:12.6,bold:true});
hbar(350,562,667,862,888,keggTerms,keggValues,keggDirection,11.5);
T('-log (p-value)',614,913.3,{size:11.8});
T('UniProt cellular component',562,967.3,{size:12.6,bold:true});
hbar(450,562,666,975,1017,uniprotTerms,uniprotValues,uniprotDirection,11.4);
T('-log (p-value)',614,1043,{size:11.8});
const sw=(y,c)=>{const d=document.createElement('div');d.style.cssText=`position:absolute;left:395.5px;top:${y}px;width:26px;height:9px;background:${c};border:1px solid #777;`;page.appendChild(d);};
sw(774,RED);sw(792,GREEN);
T('Upregulated by 3 mg/kg psilocybin in PFC',429.7,779.7,{size:12.5,align:'left'});
T('Downregulated by 3 mg/kg psilocybin in PFC',431,797.7,{size:12.5,align:'left'});
</script></body></html>
